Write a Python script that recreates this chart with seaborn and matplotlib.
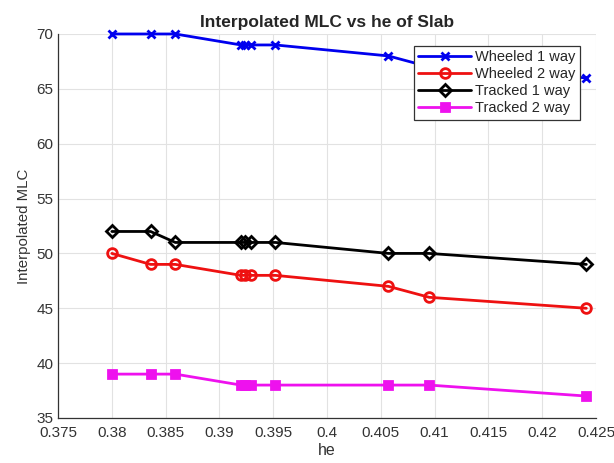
import matplotlib
matplotlib.use("Agg")
import matplotlib.pyplot as plt
import seaborn as sns
import pandas as pd

he = [0.380, 0.3836, 0.3859, 0.3920, 0.3924, 0.3929, 0.3952, 0.4057, 0.4095, 0.4241]
wheeled_1 = [70, 70, 70, 69, 69, 69, 69, 68, 67, 66]
wheeled_2 = [50, 49, 49, 48, 48, 48, 48, 47, 46, 45]
tracked_1 = [52, 52, 51, 51, 51, 51, 51, 50, 50, 49]
tracked_2 = [39, 39, 39, 38, 38, 38, 38, 38, 38, 37]
series_names = ["Wheeled 1 way", "Wheeled 2 way", "Tracked 1 way", "Tracked 2 way"]
x_ticks = [0.375, 0.38, 0.385, 0.39, 0.395, 0.4, 0.405, 0.41, 0.415, 0.42, 0.425]
x_tick_labels = ["0.375", "0.38", "0.385", "0.39", "0.395", "0.4", "0.405", "0.41", "0.415", "0.42", "0.425"]
y_ticks = [35, 40, 45, 50, 55, 60, 65, 70]

sns.set_style("white")
plt.rcParams['font.family'] = ['Liberation Sans', 'DejaVu Sans']

fig = plt.figure(figsize=(6.14, 4.63), dpi=100)
ax = fig.add_axes([0.0945, 0.0972, 0.8762, 0.8294])

styles = [
    dict(color="#0000ee", marker="x", mfc="#0000ee", ms=6),
    dict(color="#ee1111", marker="o", mfc="none", ms=7),
    dict(color="#000000", marker="D", mfc="none", ms=6),
    dict(color="#ee11ee", marker="s", mfc="#ee11ee", ms=6),
]
values = [wheeled_1, wheeled_2, tracked_1, tracked_2]
for name, vals, st in zip(series_names, values, styles):
    df = pd.DataFrame({"he": he, "mlc": vals})
    sns.lineplot(data=df, x="he", y="mlc", ax=ax, color=st["color"], linewidth=2,
                 marker=st["marker"], markersize=st["ms"], markerfacecolor=st["mfc"],
                 markeredgecolor=st["color"], markeredgewidth=2, label=name, clip_on=False)

ax.set_xlim(0.375, 0.425)
ax.set_ylim(35, 70)
ax.set_xticks(x_ticks)
ax.set_xticklabels(x_tick_labels)
ax.set_yticks(y_ticks)
ax.grid(True, color="#e2e2e2", linewidth=0.8)
ax.tick_params(direction="in", length=4, labelsize=11, colors="#333333", labelcolor="#333333")
ax.tick_params(axis="x", pad=6)
for s in ["top", "right"]:
    ax.spines[s].set_visible(False)
for s in ["left", "bottom"]:
    ax.spines[s].set_color("#333333")
    ax.spines[s].set_linewidth(0.9)
ax.set_xlabel("he", fontsize=11.5, color="#333333", labelpad=2)
ax.set_ylabel("Interpolated MLC", fontsize=10.8, color="#333333")
ax.set_title("Interpolated MLC vs he of Slab", fontsize=12.5, fontweight="bold", pad=5)

leg = ax.legend(loc="upper right", bbox_to_anchor=(580/614, 1-46/463), bbox_transform=fig.transFigure,
                fontsize=10.5, frameon=True, fancybox=False, framealpha=1, borderpad=0.3, labelspacing=0.2,
                handlelength=3.6, handletextpad=0.3, borderaxespad=0)
leg.get_frame().set_edgecolor("#333333")
leg.get_frame().set_facecolor("white")
leg.get_frame().set_linewidth(0.9)
leg.set_zorder(10)

fig.savefig("out.png", dpi=100)
